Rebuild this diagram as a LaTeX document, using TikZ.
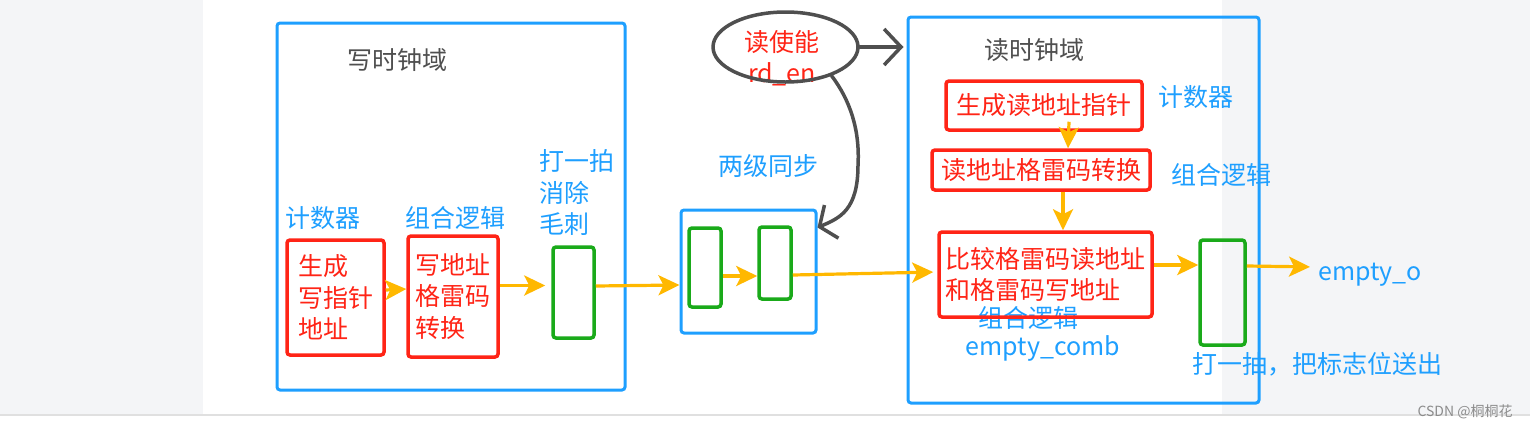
\documentclass[tikz,border=0pt]{standalone}
\usepackage{fontspec}
\newfontfamily\cjk{Noto Sans CJK SC}
\usetikzlibrary{arrows.meta,shapes.geometric}
\definecolor{dblue}{HTML}{1E9FFF}
\definecolor{dred}{HTML}{FF2416}
\definecolor{dgreen}{HTML}{1AAA1A}
\definecolor{dgold}{HTML}{FFB800}
\definecolor{dgrey}{HTML}{4F4F4F}
\definecolor{pagegrey}{HTML}{F4F5F7}

\begin{document}
\begin{tikzpicture}[x=1pt,y=-1pt,
  every node/.style={font=\cjk\fontsize{25}{31.5}\selectfont},
  dombox/.style={draw=dblue,line width=3pt,rounded corners=3pt,inner sep=0pt},
  logicbox/.style={draw=dred,line width=3.5pt,rounded corners=3pt,text=dred,align=left,inner sep=0pt},
  regbox/.style={draw=dgreen,line width=3.5pt,rounded corners=3pt,inner sep=0pt},
  note/.style={text=dblue,inner sep=0pt},
  title/.style={text=dgrey,inner sep=0pt},
  flow/.style={draw=dgold,line width=3.2pt,-{Stealth[length=21pt,width=20pt,inset=5pt]}},
  hand/.style={draw=dgrey,line width=3.5pt,line cap=round,line join=round}]
\useasboundingbox (0,0) rectangle (1530,429);
\fill[white] (0,0) rectangle (1530,429);
\fill[pagegrey] (0,0) rectangle (203,415);
\fill[pagegrey] (1222,0) rectangle (1530,415);
\draw[black!12,line width=1.5pt] (0,415) -- (1530,415);

\node[dombox,minimum width=348pt,minimum height=367pt] (wdom) at (451,206.5) {};
\node[dombox,minimum width=135pt,minimum height=123pt] (sync) at (748.5,271.5) {};
\node[dombox,minimum width=351pt,minimum height=386pt] (rdom) at (1083.5,210) {};

\node[title] (wtitle) at (397,60) {写时钟域};
\node[title] (rtitle) at (1034,50) {读时钟域};
\node[note] (wcnt) at (323,218) {计数器};
\node[note] (wcomb) at (455,218) {组合逻辑};
\node[note,align=left,anchor=west] (wsamp) at (539,193) {打一拍\\消除\\毛刺};
\node[note] (stitle) at (768,166) {两级同步};
\node[note] (rcnt) at (1196,97) {计数器};
\node[note] (rcomb) at (1221,175) {组合逻辑};
\node[note] (ccomb) at (1028,318) {组合逻辑};
\node[note] (cname) at (1043,348) {empty\_comb};
\node[note] (out) at (1370,275) {empty\_o};
\node[note] (rsamp) at (1317,364) {打一抽，把标志位送出};

\node[logicbox,minimum width=97pt,minimum height=115pt] (w1) at (335.5,297.5) {生成\\写指针\\地址};
\node[logicbox,minimum width=90pt,minimum height=121pt] (w2) at (453,296.5) {写地址\\格雷码\\转换};
\node[regbox,minimum width=41pt,minimum height=91pt] (gw) at (573.5,292.5) {};
\node[regbox,minimum width=32pt,minimum height=79pt] (g2) at (705,267.5) {};
\node[regbox,minimum width=32pt,minimum height=72pt] (g3) at (775,263) {};
\node[logicbox,minimum width=196pt,minimum height=49pt] (r1) at (1044,105.5) {生成读地址指针};
\node[logicbox,minimum width=218pt,minimum height=40pt] (r2) at (1041,170) {读地址格雷码转换};
\node[logicbox,minimum width=213pt,minimum height=85pt] (r3) at (1045.5,274.5) {比较格雷码读地址\\和格雷码写地址};
\node[regbox,minimum width=45pt,minimum height=105pt] (gr) at (1222.5,292.5) {};

\node[text=dred,align=center,inner sep=0pt] (rentxt) at (782,58) {读使能\\rd\_en};
\node[ellipse,draw=dgrey,line width=3.5pt,minimum width=145pt,minimum height=70pt] (ren) at (785.5,47) {};

\draw[flow] ([yshift=7.5pt]w1.east) -- ([yshift=7.5pt]w2.west);
\draw[flow,shorten >=6pt] ([yshift=11pt]w2.east) -- ([yshift=7pt]gw.west);
\draw[flow] ([yshift=6.5pt]gw.east) -- ([yshift=-13.5pt]sync.west);
\draw[flow] ([yshift=-8.5pt]g2.east) -- ([yshift=-13pt]g3.west);
\draw[flow,shorten >=4pt] ([yshift=-12pt]g3.east) -- ([yshift=2.5pt]r3.west);
\draw[flow] ([yshift=9.5pt]r3.east) -- ([yshift=27.5pt]gr.west);
\draw[flow,shorten >=8pt] ([yshift=26.5pt]gr.east) -- ([yshift=8pt]out.west);
\draw[flow] ([xshift=25pt,yshift=10pt]r1.south) -- ([xshift=27pt]r2.north);
\draw[flow] ([xshift=22pt]r2.south) -- ([xshift=17.5pt]r3.north);

\draw[hand,shorten >=3pt,-{Straight Barb[length=17pt,width=36pt]}] (ren.east) -- (ren.east -| rdom.west);
\draw[hand,-{Straight Barb[length=13pt,width=36pt]}] (ren.-32) .. controls (850,100) and (860,130) .. (858,165) .. controls (858,210) and (840,218) .. ([yshift=-19pt]sync.north east);

\node[text=black!45,font=\cjk\fontsize{14}{16}\selectfont,inner sep=0pt] (mark) at (1465,412) {CSDN @桐桐花};
\end{tikzpicture}
\end{document}
